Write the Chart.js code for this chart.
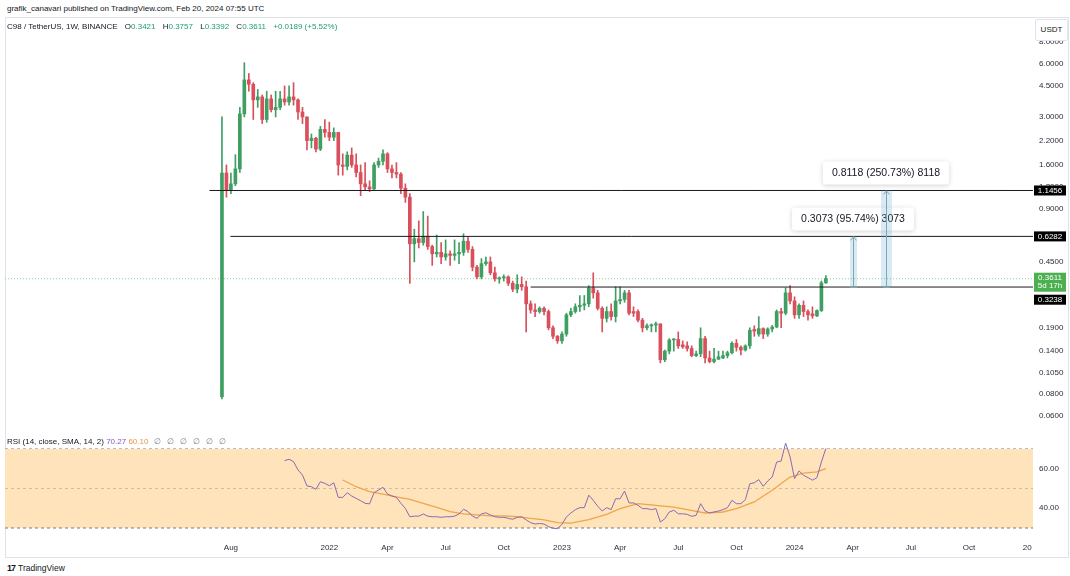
<!DOCTYPE html>
<html><head><meta charset="utf-8">
<script src="https://cdn.jsdelivr.net/npm/chart.js@4.4.1/dist/chart.umd.min.js"></script>
<style>
html,body{margin:0;padding:0;background:#fff;}
body{width:1070px;height:576px;position:relative;overflow:hidden;font-family:'Liberation Sans',Arial,sans-serif;color:#131722;}
.abs{position:absolute;white-space:nowrap;}
#frame{left:5px;top:17px;width:1062px;height:539px;border:1px solid #e0e3eb;}
#hdr1{left:7px;top:4px;font-size:8px;line-height:10px;z-index:5;}
#hdr2{left:7px;top:22px;font-size:8px;line-height:10px;z-index:5;}
#hdr2 .k{margin-left:5px;}
.g{color:#1f9d74;}
#usdt{left:1035px;top:19px;width:31px;height:20px;line-height:20px;text-align:center;font-size:8px;background:#fff;border:1px solid #e0e3eb;border-radius:2px;z-index:6;}
#rsiLbl{left:7px;top:437px;font-size:8px;line-height:10px;z-index:5;}
#rsiLbl .n{color:#787b86;margin-left:6px;}
#tv{left:7px;top:563px;font-size:8.5px;line-height:11px;z-index:5;}
#tv b{font-size:9px;letter-spacing:-1px;margin-right:3px;}
canvas{position:absolute;left:0;z-index:2;}
#pc{top:18px;}
#rc{top:433px;}
</style></head>
<body>
<div id="frame" class="abs"></div>
<div id="hdr1" class="abs">grafik_canavari published on TradingView.com, Feb 20, 2024 07:55 UTC</div>
<div id="hdr2" class="abs">C98 / TetherUS, 1W, BINANCE <span class="k">O</span><span class="g">0.3421</span> <span class="k">H</span><span class="g">0.3757</span> <span class="k">L</span><span class="g">0.3392</span> <span class="k">C</span><span class="g">0.3611</span> <span class="g k">+0.0189 (+5.52%)</span></div>
<div id="usdt" class="abs">USDT</div>
<div id="rsiLbl" class="abs">RSI (14, close, SMA, 14, 2) <span style="color:#7e57c2">70.27</span> <span style="color:#e09a45">60.10</span><span class="n">∅</span><span class="n">∅</span><span class="n">∅</span><span class="n">∅</span><span class="n">∅</span><span class="n">∅</span></div>
<div id="tv" class="abs"><b>17</b>TradingView</div>
<canvas id="pc" width="1070" height="415"></canvas>
<canvas id="rc" width="1070" height="124"></canvas>
<script>
// ---------- DATA (weekly candles, week 0 = 2021-07-19) ----------
const opens = [
0.077,1.44,1.15,1.25,1.52,3.12,4.87,4.6,3.75,3.9,
2.9,3.8,3.3,3.4,3.8,3.65,3.9,3.75,3.2,3.0,
2.2,2.27,1.97,2.55,2.45,2.3,2.45,1.6,1.57,1.82,
1.6,1.45,1.25,1.2,1.17,1.6,1.68,1.85,1.52,1.45,
1.42,1.18,1.05,0.57,0.61,0.58,0.63,0.55,0.50,0.51,
0.48,0.50,0.49,0.50,0.51,0.59,0.53,0.42,0.37,0.44,
0.45,0.39,0.36,0.365,0.37,0.34,0.315,0.335,0.325,0.26,
0.24,0.235,0.245,0.235,0.19,0.17,0.16,0.175,0.225,0.235,
0.25,0.255,0.26,0.32,0.30,0.245,0.215,0.235,0.22,0.27,
0.275,0.30,0.235,0.235,0.21,0.19,0.195,0.197,0.2,0.125,
0.14,0.162,0.163,0.152,0.15,0.145,0.132,0.135,0.165,0.128,
0.122,0.126,0.128,0.132,0.137,0.155,0.147,0.142,0.15,0.186,
0.175,0.188,0.175,0.187,0.192,0.235,0.23,0.30,0.27,0.225,
0.255,0.235,0.228,0.222,0.238,0.3421];
const highs = [
3.0,1.6,1.44,1.83,3.4,6.1,5.3,4.7,4.3,4.0,
4.2,4.0,4.2,4.2,4.5,4.5,4.7,3.8,3.4,3.0,
2.4,2.3,2.65,2.9,2.8,2.6,2.45,1.85,1.9,2.0,
1.85,1.6,1.65,1.3,1.65,1.75,1.95,1.88,1.6,1.65,
1.45,1.25,1.1,0.69,0.77,0.87,0.82,0.56,0.64,0.58,
0.60,0.52,0.60,0.58,0.65,0.62,0.55,0.43,0.47,0.48,
0.48,0.42,0.37,0.38,0.375,0.35,0.38,0.37,0.35,0.27,
0.26,0.25,0.25,0.24,0.195,0.172,0.18,0.23,0.245,0.26,
0.29,0.29,0.33,0.39,0.31,0.25,0.25,0.26,0.325,0.325,
0.31,0.31,0.25,0.24,0.215,0.2,0.2,0.205,0.2,0.142,
0.165,0.165,0.18,0.16,0.158,0.15,0.14,0.19,0.17,0.14,
0.145,0.14,0.14,0.14,0.158,0.163,0.15,0.152,0.19,0.195,
0.22,0.19,0.19,0.196,0.24,0.245,0.32,0.33,0.285,0.26,
0.27,0.24,0.25,0.24,0.35,0.3757];
const lows = [
0.075,1.05,1.10,1.22,1.45,3.0,4.2,2.9,3.4,2.75,
2.8,3.2,3.0,3.3,3.5,3.5,3.5,2.9,2.75,1.95,
2.0,1.9,1.93,2.3,2.2,2.2,1.4,1.4,1.5,1.55,
1.37,1.07,1.15,1.13,1.15,1.55,1.6,1.45,1.35,1.35,
1.1,0.98,0.34,0.45,0.54,0.56,0.53,0.43,0.48,0.44,
0.46,0.43,0.46,0.44,0.49,0.51,0.40,0.36,0.36,0.43,
0.38,0.35,0.34,0.35,0.33,0.305,0.30,0.31,0.18,0.23,
0.22,0.23,0.225,0.185,0.165,0.155,0.155,0.17,0.22,0.23,
0.235,0.24,0.25,0.28,0.24,0.18,0.205,0.21,0.205,0.26,
0.265,0.225,0.22,0.205,0.18,0.185,0.18,0.18,0.12,0.122,
0.135,0.14,0.145,0.145,0.14,0.13,0.13,0.13,0.12,0.12,
0.12,0.125,0.127,0.128,0.135,0.14,0.133,0.14,0.145,0.17,
0.17,0.165,0.17,0.18,0.19,0.19,0.225,0.26,0.215,0.215,
0.22,0.21,0.215,0.22,0.235,0.3392];
const closes = [
1.44,1.15,1.25,1.52,3.12,4.87,4.6,3.75,3.9,2.9,
3.8,3.3,3.4,3.8,3.65,3.9,3.75,3.2,3.0,2.2,
2.27,1.97,2.55,2.45,2.3,2.45,1.6,1.57,1.82,1.6,
1.45,1.25,1.2,1.17,1.6,1.68,1.85,1.52,1.45,1.42,
1.18,1.05,0.57,0.61,0.58,0.63,0.55,0.50,0.51,0.48,
0.50,0.49,0.50,0.51,0.59,0.53,0.42,0.37,0.44,0.45,
0.39,0.36,0.365,0.37,0.34,0.315,0.335,0.325,0.26,0.24,
0.235,0.245,0.235,0.19,0.17,0.16,0.175,0.225,0.235,0.25,
0.255,0.26,0.32,0.30,0.245,0.215,0.235,0.22,0.27,0.275,
0.30,0.23,0.23,0.21,0.19,0.195,0.197,0.2,0.125,0.14,
0.162,0.163,0.15,0.148,0.145,0.132,0.135,0.165,0.128,0.122,
0.126,0.13,0.132,0.137,0.155,0.147,0.142,0.15,0.184,0.182,
0.188,0.175,0.187,0.192,0.235,0.23,0.30,0.27,0.225,0.255,
0.235,0.225,0.222,0.238,0.3421,0.3611];

const rsiStart = 14;
const rsiValues = [
64.1,64.8,63.6,59.4,56.8,51.3,50.9,49.6,53.4,52.6,
51.4,52.9,45.5,45.5,47.9,46.2,45.0,43.8,42.5,42.2,
47.9,49.2,50.6,47.2,46.2,45.5,42.5,39.9,35.7,36.0,
36.0,37.1,36.0,35.7,35.7,35.4,35.7,35.7,36.0,37.1,
39.5,38.3,36.0,34.9,37.1,37.7,36.6,35.7,35.4,35.4,
34.9,34.4,35.4,35.7,34.1,32.7,32.0,32.3,32.0,30.7,
29.9,29.6,
31.9,35.6,37.6,39.3,40.3,40.3,46.6,44.0,41.0,38.6,
40.3,39.3,44.8,44.8,48.7,42.7,42.7,41.5,39.8,39.8,
39.3,39.8,33.0,34.7,38.1,39.0,37.2,37.2,36.9,35.9,
36.4,42.3,38.6,37.6,38.1,38.6,39.3,40.3,44.0,42.3,
42.3,44.3,52.4,52.9,54.5,51.1,53.8,55.8,63.4,63.9,
73.0,66.0,55.0,58.9,56.7,55.5,54.2,55.5,63.4,70.27];
// SMA(14) of RSI, read at these weeks
const smaWeeks  = [27,30,33,36,39,42,45,48,51,54,57,60,63,66,69,72,75,78,82,86,89,93,97,101,104,108,112,115,119,123,127,130,133,135];
const smaValues = [54.3,50.9,48.4,47.2,45.8,44.5,42.5,40.5,38.3,37.1,36.6,36.1,36.1,35.7,34.9,34.1,32.7,32.5,34.2,36.9,39.8,42.3,41.5,40.6,39.3,37.6,38.1,39.8,43.2,49.1,55.8,57.8,58.4,60.1];

// Axis ticks
const priceTicks = [8, 6, 4.5, 3, 2.2, 1.6, 1.2, 0.9, 0.45, 0.27, 0.19, 0.14, 0.105, 0.08, 0.06];
const rsiTicks = [60, 40];
const timeTickWeeks  = [2, 24, 37, 50, 63, 76, 89, 102, 115, 128, 141, 154, 167, 180];
const timeTickLabels = ['Aug','2022','Apr','Jul','Oct','2023','Apr','Jul','Oct','2024','Apr','Jul','Oct','20'];

// Drawn levels and measurement annotations
const lastPrice = 0.3611;
const levelValues = [1.1456, 0.6282, 0.3238];
const levelStartWeeks = [-2.8, 1.9, 69];
const measureBase = 0.3238;
const measureWeeks = [141, 148.4];
const measureTargets = [0.6282, 1.1456];
const measureTexts = ['0.3073 (95.74%) 3073', '0.8118 (250.73%) 8118'];
const measureHalfWidths = [3, 5];

// ---------- LAYOUT CONSTANTS ----------
const X_MIN = -48.5, X_MAX = 181.3;
const P_MIN = 0.04794, P_MAX = 10.95;
const R_MIN = 25.44, R_MAX = 78.1;
const UP = '#3f9f62', DOWN = '#d9505c';
const FONT = "'Liberation Sans', Arial, sans-serif";
Chart.defaults.font.family = FONT;
Chart.defaults.font.size = 8;
Chart.defaults.color = '#2a2e39';

const weeks = opens.map((_, i) => i);
const colorAt = i => closes[i] >= opens[i] ? UP : DOWN;
const wickData = weeks.map(i => ({x: i, y: [lows[i], highs[i]]}));
const bodyData = weeks.map(i => ({x: i, y: [opens[i], closes[i]]}));
const hline = (from, v) => [{x: from, y: v}, {x: X_MAX, y: v}];

const overlay = {
  id: 'overlay',
  afterDatasetsDraw(chart) {
    const {ctx, scales: {x, y}} = chart;
    ctx.save();
    measureWeeks.forEach((w, k) => {
      const px = Math.round(x.getPixelForValue(w));
      const y0 = y.getPixelForValue(measureBase);
      const y1 = y.getPixelForValue(measureTargets[k]);
      const hw = measureHalfWidths[k];
      ctx.fillStyle = 'rgba(80,160,215,0.22)';
      ctx.fillRect(px - hw, y1, hw * 2 + 1, y0 - y1);
      ctx.strokeStyle = '#7eaaa2'; ctx.lineWidth = 1;
      ctx.beginPath(); ctx.moveTo(px + 0.5, y0); ctx.lineTo(px + 0.5, y1); ctx.stroke();
      ctx.beginPath(); ctx.moveTo(px - 2.5, y1 + 4); ctx.lineTo(px + 0.5, y1 + 0.5); ctx.lineTo(px + 3.5, y1 + 4); ctx.stroke();
      ctx.beginPath(); ctx.moveTo(px - 3, Math.round(y0) + 0.5); ctx.lineTo(px + 4, Math.round(y0) + 0.5); ctx.stroke();
      ctx.font = '10.5px ' + FONT;
      const t = measureTexts[k];
      const bw = ctx.measureText(t).width + 18, bh = 23;
      const bx = px - bw / 2, by = y1 - 6 - bh;
      ctx.save();
      ctx.shadowColor = 'rgba(0,0,0,0.18)'; ctx.shadowBlur = 5; ctx.shadowOffsetY = 1;
      ctx.fillStyle = '#fff';
      ctx.beginPath(); ctx.roundRect(bx, by, bw, bh, 3); ctx.fill();
      ctx.restore();
      ctx.fillStyle = '#131722'; ctx.textAlign = 'center'; ctx.textBaseline = 'middle';
      ctx.fillText(t, px, by + bh / 2 + 0.5);
    });
    ctx.restore();
  },
  afterDraw(chart) {
    const {ctx, scales: {y}, chartArea} = chart;
    const left = chartArea.right + 1, w = 32, cx = left + w / 2;
    ctx.save();
    ctx.font = '8px ' + FONT; ctx.textAlign = 'center'; ctx.textBaseline = 'middle';
    const tag = (top, h, bg, lines) => {
      ctx.fillStyle = bg; ctx.fillRect(left, top, w, h);
      ctx.fillStyle = '#fff';
      lines.forEach((s, j) => ctx.fillText(s, cx, top + 5 + j * 8.5));
    };
    [levelValues[0], levelValues[1]].forEach(v => {
      const yc = y.getPixelForValue(v);
      tag(yc - 5, 10, '#000', [v.toFixed(4)]);
    });
    const yg = y.getPixelForValue(lastPrice);
    tag(yg - 6, 19, '#4caf50', [lastPrice.toFixed(4), '5d 17h']);
    tag(yg - 6 + 19 + 3, 10, '#000', [levelValues[2].toFixed(4)]);
    ctx.restore();
  }
};

new Chart(document.getElementById('pc'), {
  type: 'bar',
  data: { datasets: [
    ...levelValues.map((v, k) => ({type: 'line', data: hline(levelStartWeeks[k], v), borderColor: '#1b1b1f', borderWidth: 1, pointRadius: 0, order: 0})),
    {type: 'line', data: hline(X_MIN, lastPrice), borderColor: '#8fd09c', borderDash: [1, 2], borderWidth: 1, pointRadius: 0, order: 3},
    {label: 'wick', data: wickData, backgroundColor: c => colorAt(c.dataIndex), barThickness: 1, grouped: false, order: 2},
    {label: 'body', data: bodyData, backgroundColor: c => colorAt(c.dataIndex), barThickness: 3, minBarLength: 1, grouped: false, order: 1}
  ]},
  options: {
    responsive: false, animation: false, devicePixelRatio: 1, events: [],
    layout: {padding: {left: 5, right: 0, top: 0, bottom: 0}},
    plugins: {legend: {display: false}, tooltip: {enabled: false}},
    scales: {
      x: {type: 'linear', min: X_MIN, max: X_MAX, bounds: 'data', offset: false, display: false},
      y: {type: 'logarithmic', position: 'right', min: P_MIN, max: P_MAX, bounds: 'data',
          grid: {display: false, drawTicks: false}, border: {display: false},
          ticks: {padding: 6, autoSkip: false, color: '#2a2e39', font: {size: 8}, callback: v => Number(v).toFixed(4)},
          afterBuildTicks: s => { s.ticks = priceTicks.map(v => ({value: v})); },
          afterFit: s => { s.width = 37; s.paddingTop = 0; s.paddingBottom = 0; }}
    }
  },
  plugins: [overlay]
});

const rsiData = rsiValues.map((v, k) => ({x: rsiStart + k, y: v}));
const smaData = smaWeeks.map((w, k) => ({x: w, y: smaValues[k]}));
new Chart(document.getElementById('rc'), {
  type: 'line',
  data: { datasets: [
    {data: hline(X_MIN, 70), borderColor: '#787b86', borderDash: [3, 3], borderWidth: 1, pointRadius: 0, order: 10},
    {data: hline(X_MIN, 30), borderColor: '#787b86', borderDash: [3, 3], borderWidth: 1, pointRadius: 0, fill: '-1', backgroundColor: '#ffe3bb', order: 9},
    {data: hline(X_MIN, 50), borderColor: 'rgba(150,140,130,0.45)', borderDash: [3, 3], borderWidth: 1, pointRadius: 0, order: 8},
    {data: smaData, borderColor: '#efa54a', borderWidth: 1.3, pointRadius: 0, order: 2},
    {data: rsiData, borderColor: '#8a6bb3', borderWidth: 1, pointRadius: 0, order: 1}
  ]},
  options: {
    responsive: false, animation: false, devicePixelRatio: 1, events: [],
    layout: {padding: {left: 5, right: 0, top: 0, bottom: 0}},
    plugins: {legend: {display: false}, tooltip: {enabled: false}},
    scales: {
      x: {type: 'linear', min: X_MIN, max: X_MAX, bounds: 'data', offset: false,
          grid: {display: false, drawTicks: false}, border: {display: false},
          ticks: {autoSkip: false, maxRotation: 0, padding: 6, color: '#2a2e39', font: {size: 8},
                  callback: v => { const k = timeTickWeeks.indexOf(v); return k >= 0 ? timeTickLabels[k] : ''; }},
          afterBuildTicks: s => { s.ticks = timeTickWeeks.map(v => ({value: v})); },
          afterFit: s => { s.height = 20; s.paddingLeft = 0; s.paddingRight = 0; }},
      y: {position: 'right', min: R_MIN, max: R_MAX, bounds: 'data',
          grid: {display: false, drawTicks: false}, border: {display: false},
          ticks: {padding: 6, autoSkip: false, color: '#2a2e39', font: {size: 8}, callback: v => Number(v).toFixed(2)},
          afterBuildTicks: s => { s.ticks = rsiTicks.map(v => ({value: v})); },
          afterFit: s => { s.width = 37; s.paddingTop = 0; s.paddingBottom = 0; }}
    }
  }
});
</script>
</body></html>
